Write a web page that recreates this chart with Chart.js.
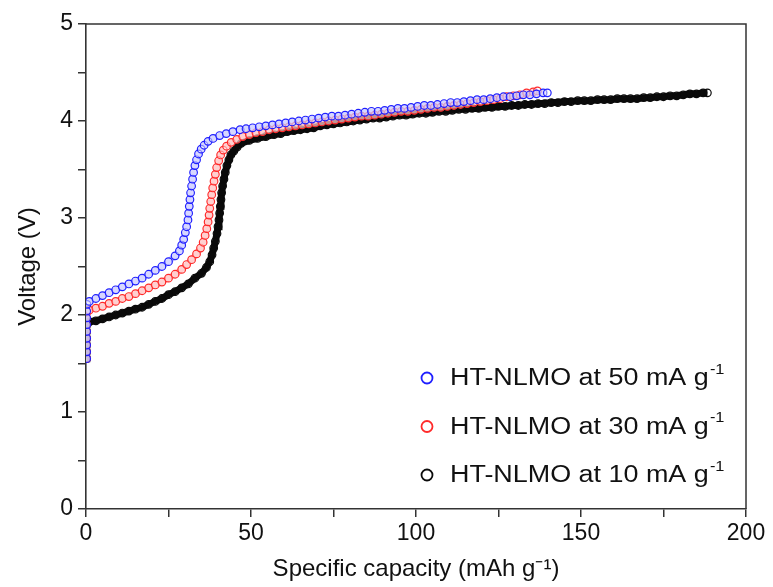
<!DOCTYPE html>
<html>
<head>
<meta charset="utf-8">
<script src="https://cdn.jsdelivr.net/npm/chart.js@4/dist/chart.umd.min.js"></script>
<style>
  body { margin: 0; background: #fff; }
  #wrap { width: 773px; height: 587px; }
</style>
</head>
<body>
<div id="wrap"><canvas id="chart" width="773" height="587"></canvas></div>
<script>
// legend labels, drawn with a superscript "-1"
var seriesLabels = ["HT-NLMO at 50 mA g", "HT-NLMO at 30 mA g", "HT-NLMO at 10 mA g"]
var xTitle = "Specific capacity (mAh g\u207B\u00B9)"
var yTitle = "Voltage (V)"

// [capacity mAh/g, voltage V]
var curve50 = [
  [0.2,1.55],[0.2,1.62],[0.2,1.69],[0.2,1.76],[0.2,1.83],[0.2,1.90],[0.2,1.97],[0.2,2.04],[0.3,2.11],
  [1,2.14],[3,2.17],[5,2.20],[7,2.23],[9,2.26],[11,2.29],[13,2.32],[15,2.35],[17,2.38],[19,2.42],
  [21,2.46],[23,2.50],[25,2.55],[27,2.61],[28.3,2.66],[29.0,2.72],[29.6,2.78],[30.1,2.85],[30.5,2.91],
  [30.9,2.98],[31.1,3.05],[31.3,3.12],[31.5,3.19],[31.7,3.26],[32.0,3.33],[32.3,3.40],[32.6,3.47],
  [33.0,3.54],[33.5,3.60],[34.1,3.66],[34.9,3.71],[35.8,3.75],[37.0,3.79],[38.5,3.82],[40.5,3.85],
  [42.5,3.87],[44.5,3.89],[46.7,3.91],[48.5,3.92],[50.5,3.93],[52.5,3.94],[54.5,3.95],[56.5,3.96],
  [58.5,3.97],[60.5,3.98],[62.5,3.99],[64.5,4.00],[66.5,4.01],[68.5,4.02],[70.5,4.03],[72.5,4.04],
  [74.5,4.05],[76.5,4.05],[78.5,4.06],[80.5,4.07],[82.5,4.08],[84.5,4.09],[86.5,4.10],[88.5,4.10],
  [90.5,4.11],[92.5,4.12],[94.5,4.13],[96.5,4.13],[98.5,4.14],[100.5,4.15],[102.5,4.16],[104.5,4.16],
  [106.5,4.17],[108.5,4.18],[110.5,4.19],[112.5,4.19],[114.5,4.20],[116.5,4.21],[118.5,4.22],
  [120.5,4.22],[122.5,4.23],[124.5,4.24],[126.5,4.25],[128.5,4.25],[130.5,4.26],[132.5,4.27],
  [134.5,4.27],[136.5,4.28],[138.5,4.29],[139.8,4.29]
]
var curve30 = [
  [0.2,1.55],[0.2,1.62],[0.2,1.69],[0.2,1.76],[0.2,1.83],[0.2,1.90],[0.2,1.97],[0.3,2.03],
  [1,2.05],[3,2.07],[5,2.09],[7,2.12],[9,2.14],[11,2.17],[13,2.19],[15,2.22],[17,2.25],[19,2.28],
  [21,2.31],[23,2.34],[25,2.38],[27,2.42],[29,2.47],[30.5,2.52],[32,2.57],[33.5,2.63],[34.7,2.69],
  [35.5,2.75],[36.1,2.82],[36.6,2.89],[37.0,2.96],[37.3,3.03],[37.5,3.10],[37.8,3.17],[38.1,3.24],
  [38.4,3.31],[38.8,3.38],[39.2,3.45],[39.6,3.52],[40.2,3.59],[40.8,3.65],[41.6,3.70],[42.6,3.74],
  [44.0,3.78],[45.7,3.81],[47.5,3.84],[49.5,3.86],[51.5,3.88],[53.5,3.89],[55.5,3.91],[57.5,3.92],
  [59.5,3.93],[61.5,3.94],[63.5,3.95],[65.5,3.96],[67.5,3.97],[69.5,3.98],[71.5,3.99],[73.5,4.00],
  [75.5,4.01],[77.5,4.02],[79.5,4.03],[81.5,4.04],[83.5,4.05],[85.5,4.05],[87.5,4.06],[89.5,4.07],
  [91.5,4.08],[93.5,4.09],[95.5,4.10],[97.5,4.10],[99.5,4.11],[101.5,4.12],[103.5,4.13],[105.5,4.14],
  [107.5,4.14],[109.5,4.15],[111.5,4.16],[113.5,4.17],[115.5,4.18],[117.5,4.19],[119.5,4.20],
  [121.5,4.21],[123.5,4.22],[125.5,4.23],[127.5,4.25],[129.5,4.26],[131.5,4.27],[133.5,4.29],
  [135.5,4.30],[136.8,4.31]
]
var curve10 = [
  [0.2,1.55],[0.2,1.62],[0.2,1.69],[0.2,1.76],[0.2,1.83],[0.3,1.90],
  [1,1.93],[3,1.94],[5,1.96],[7,1.98],[9,2.00],[11,2.02],[13,2.04],[15,2.06],[17,2.08],[19,2.11],
  [21,2.14],[23,2.17],[25,2.21],[27,2.24],[29,2.28],[31,2.32],[33,2.38],[35,2.43],[36.5,2.49],
  [37.5,2.55],[38.2,2.62],[38.7,2.69],[39.2,2.76],[39.7,2.84],[40.0,2.91],[40.3,2.98],[40.5,3.05],
  [40.7,3.12],[40.9,3.19],[41.1,3.26],[41.4,3.33],[41.8,3.40],[42.2,3.47],[42.7,3.54],[43.3,3.60],
  [43.9,3.65],[44.8,3.69],[45.8,3.73],[47.0,3.77],[49.5,3.80],[52,3.82],[54.5,3.84],[57,3.86],
  [59,3.87],[61,3.89],[63,3.90],[65,3.91],[67,3.92],[69,3.93],[71,3.95],[73,3.96],[75,3.97],
  [77,3.98],[79,3.99],[81,4.00],[83,4.01],[85,4.02],[87,4.03],[89,4.03],[91,4.04],[93,4.05],
  [95,4.06],[97,4.06],[99,4.07],[101,4.08],[103,4.08],[105,4.09],[107,4.10],[109,4.10],[111,4.11],
  [113,4.12],[115,4.12],[117,4.13],[119,4.13],[121,4.14],[123,4.14],[125,4.15],[127,4.15],
  [129,4.16],[131,4.16],[133,4.17],[135,4.17],[137,4.18],[139,4.18],[141,4.19],[143,4.19],
  [145,4.20],[147,4.20],[149,4.21],[151,4.21],[153,4.21],[155,4.22],[157,4.22],[159,4.22],
  [161,4.23],[163,4.23],[165,4.23],[167,4.23],[169,4.24],[171,4.24],[173,4.25],[175,4.25],
  [177,4.26],[179,4.26],[181,4.27],[183,4.28],[185,4.28],[187,4.29],[188.3,4.29]
]

var markColors = ["#1f1fff", "#ff2a2a", "#0a0a0a"]
var bandColors = ["rgba(110,110,255,0.5)", "rgba(255,100,100,0.55)", "rgba(10,10,10,1)"]
var fillColors = ["rgba(255,255,255,0.45)", "rgba(255,255,255,0.45)", "rgba(0,0,0,0)"]

function toPoints(arr) {
  return arr.map(function(p) { return { x: p[0], y: p[1] } })
}

var font = "Liberation Sans, Arial, sans-serif"

/*
frame on top and right, and the legend with superscripts
*/
var framePlugin = {
  id: 'frame',
  afterDraw: function(chart) {
    var c = chart.ctx, a = chart.chartArea
    c.save()
    c.strokeStyle = '#333'
    c.lineWidth = 1.5
    c.beginPath()
    c.moveTo(a.left, a.top)
    c.lineTo(a.right, a.top)
    c.lineTo(a.right, a.bottom)
    c.stroke()

    var x0 = a.left + 341, y0 = a.top + 354, gap = 48.5
    for (var i = 0; i < seriesLabels.length; i++) {
      var y = y0 + i * gap
      c.beginPath()
      c.arc(x0, y, 5.5, 0, Math.PI * 2)
      c.strokeStyle = markColors[i]
      c.lineWidth = 1.8
      c.stroke()
      c.save()
      c.translate(x0 + 23, y + 1)
      c.scale(1.17, 1)
      c.fillStyle = '#111'
      c.textBaseline = 'middle'
      c.textAlign = 'left'
      c.font = '23px ' + font
      c.fillText(seriesLabels[i], 0, 0)
      var w = c.measureText(seriesLabels[i]).width
      c.font = '14px ' + font
      c.fillText('-1', w + 1, -9)
      c.restore()
    }
    c.restore()
  }
}

var ctx = document.getElementById('chart').getContext('2d')
var curves = [curve50, curve30, curve10]
var chart = new Chart(ctx, {
  type: 'scatter',
  data: {
    datasets: curves.map(function(cv, i) {
      return {
        label: seriesLabels[i] + '\u207B\u00B9',
        data: toPoints(cv),
        showLine: true,
        borderColor: bandColors[i],
        borderWidth: i == 2 ? 7 : 6,
        pointStyle: 'circle',
        pointRadius: 3.8,
        pointBorderWidth: 1.2,
        pointBorderColor: markColors[i],
        pointBackgroundColor: fillColors[i],
        tension: 0
      }
    })
  },
  options: {
    responsive: false,
    animation: false,
    layout: { padding: { top: 24, right: 27, left: 0, bottom: 0 } },
    plugins: {
      legend: { display: false },
      tooltip: { enabled: false }
    },
    scales: {
      x: {
        type: 'linear',
        min: 0,
        max: 200,
        afterFit: function(s) { s.height = 78 },
        border: { display: true, color: '#333', width: 1.6 },
        grid: { display: true, drawOnChartArea: false, color: '#333', tickLength: 8, lineWidth: 1.5 },
        ticks: {
          stepSize: 25,
          color: '#111',
          padding: 3,
          maxRotation: 0,
          font: { family: font, size: 23 },
          callback: function(v) { return v % 50 === 0 ? v : '' }
        },
        title: {
          display: true,
          text: xTitle,
          color: '#111',
          padding: { top: 0, bottom: 3 },
          font: { family: font, size: 24 }
        }
      },
      y: {
        type: 'linear',
        min: 0,
        max: 5,
        afterFit: function(s) { s.width = 86 },
        border: { display: true, color: '#333', width: 1.6 },
        grid: { display: true, drawOnChartArea: false, color: '#333', tickLength: 8, lineWidth: 1.5 },
        ticks: {
          stepSize: 0.5,
          color: '#111',
          padding: 5,
          font: { family: font, size: 23 },
          callback: function(v) { return v % 1 === 0 ? v : '' }
        },
        title: {
          display: true,
          text: yTitle,
          color: '#111',
          padding: { top: 14, bottom: 0 },
          font: { family: font, size: 24 }
        }
      }
    }
  },
  plugins: [framePlugin]
})
</script>
</body>
</html>
